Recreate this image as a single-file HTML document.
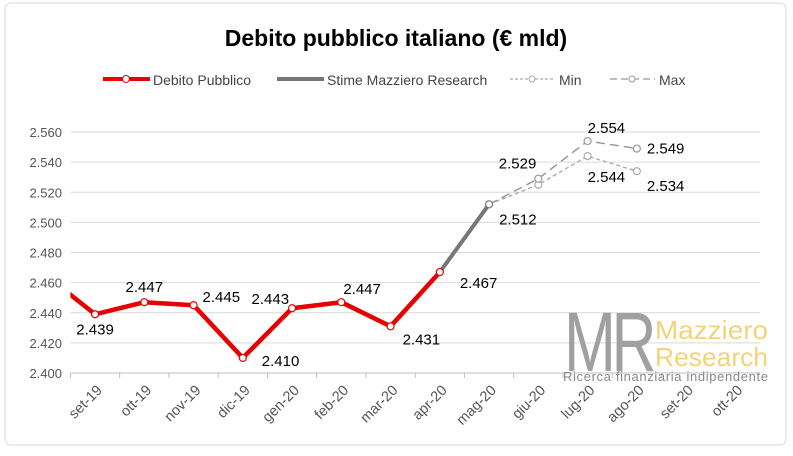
<!DOCTYPE html>
<html><head><meta charset="utf-8"><style>
body{margin:0;background:#fff;}
svg text{font-family:"Liberation Sans",sans-serif;}
</style></head><body>
<svg width="793" height="451" viewBox="0 0 793 451">
<rect x="5" y="3" width="781" height="442" rx="6" fill="#fff" stroke="#d9d9d9"/>
<text x="396" y="46" text-anchor="middle" font-size="23" font-weight="bold" fill="#000">Debito pubblico italiano (€ mld)</text>
<g id="legend">
<g><line x1="103" y1="79" x2="150" y2="79" stroke="#e00" stroke-width="4"/><circle cx="126" cy="79" r="3.5" fill="#fff" stroke="#e00"/><text x="153" y="85" font-size="14" fill="#444">Debito Pubblico</text></g>
<g><line x1="277" y1="79" x2="324" y2="79" stroke="#777" stroke-width="4"/><text x="327" y="85" font-size="14" fill="#444">Stime Mazziero Research</text></g>
<g><line x1="510" y1="79" x2="555" y2="79" stroke="#aaa" stroke-width="1.2" stroke-dasharray="3,2"/><circle cx="532" cy="79" r="3" fill="#fff" stroke="#aaa"/><text x="559" y="85" font-size="14" fill="#444">Min</text></g>
<g><line x1="610" y1="79" x2="655" y2="79" stroke="#999" stroke-width="1.2" stroke-dasharray="7,4"/><circle cx="632" cy="79" r="3" fill="#fff" stroke="#999"/><text x="659" y="85" font-size="14" fill="#444">Max</text></g>
</g>
<g id="grid"></g><g id="xaxis"></g>
<g>
<text x="564" y="371" font-size="84" fill="#a0a0a0" letter-spacing="-6" textLength="88" lengthAdjust="spacingAndGlyphs">MR</text>
<text x="655" y="339" font-size="26" fill="#f3d37a" textLength="113" lengthAdjust="spacingAndGlyphs">Mazziero</text>
<text x="655" y="366" font-size="26" fill="#f3d37a" textLength="113" lengthAdjust="spacingAndGlyphs">Research</text>
<text x="563" y="381" font-size="13" fill="#888" textLength="205">Ricerca finanziaria indipendente</text>
</g>
<g id="series"></g>
</svg>
<script>
const categories=["set-19","ott-19","nov-19","dic-19","gen-20","feb-20","mar-20","apr-20","mag-20","giu-20","lug-20","ago-20","set-20","ott-20"];
const debito=[2.439,2.447,2.445,2.410,2.443,2.447,2.431,2.467];
const debitoPrev=2.465;
const debitoLabels=["2.439","2.447","2.445","2.410","2.443","2.447","2.431","2.467"];
const stime=[null,null,null,null,null,null,null,2.467,2.512];
const minVals=[null,null,null,null,null,null,null,null,2.512,2.525,2.544,2.534];
const maxVals=[null,null,null,null,null,null,null,null,2.512,2.529,2.554,2.549];
const yTicks=[2.400,2.420,2.440,2.460,2.480,2.500,2.520,2.540,2.560];
const NS="http://www.w3.org/2000/svg";
const L=70.4,R=760,T0=132,B0=373,vMin=2.4,vMax=2.56;
const bw=(R-L)/categories.length;
function x(i){return L+bw*(i+0.5);}
function y(v){return B0-(v-vMin)/(vMax-vMin)*(B0-T0);}
function el(t,a,p){const e=document.createElementNS(NS,t);for(const k in a)e.setAttribute(k,a[k]);p.appendChild(e);return e;}
const grid=document.getElementById('grid'),xa=document.getElementById('xaxis'),ser=document.getElementById('series');
yTicks.forEach(v=>{
 const g=el('line',{x1:L,x2:R,y1:y(v),y2:y(v),stroke:v===2.4?'#bfbfbf':'#d9d9d9'},grid);
 
 
 const t=el('text',{x:62,y:y(v)+5,'text-anchor':'end','font-size':13,fill:'#555'},grid);
 t.textContent=v.toFixed(3);
 
 
});
categories.forEach((c,i)=>{
 const tk=el('line',{x1:L+bw*i,x2:L+bw*i,y1:B0,y2:B0+5,stroke:'#bfbfbf'},xa);
 
 
 const ax=x(i)+8,ay=B0+18;
 const t=el('text',{x:ax,y:ay,'text-anchor':'end','font-size':14.5,fill:'#555',transform:`rotate(-45 ${ax} ${ay})`},xa);
 t.textContent=c;
 
 
});
const clip=el('clipPath',{id:'pc'},ser);el('rect',{x:L,y:100,width:R-L,height:300},clip);
function line(vals,attrs,name,startPrev){
 let pts=[];if(startPrev!==undefined)pts.push([x(-1),y(startPrev)]);
 vals.forEach((v,i)=>{if(v!==null)pts.push([x(i),y(v)]);});
 const p=el('polyline',Object.assign({points:pts.map(q=>q.join(',')).join(' '),fill:'none','clip-path':'url(#pc)','stroke-linejoin':'round'},attrs),ser);
 
 
}
function markers(vals,stroke,name){vals.forEach((v,i)=>{if(v===null)return;const c=el('circle',{cx:x(i),cy:y(v),r:3.5,fill:'#fff',stroke:stroke,'stroke-width':1.2},ser);});}
line(minVals,{stroke:'#b0b0b0','stroke-width':1.5,'stroke-dasharray':'4,3'},'min-line');
line(maxVals,{stroke:'#999','stroke-width':1.5,'stroke-dasharray':'9,5'},'max-line');
line(stime,{stroke:'#777','stroke-width':4},'stime-line');
line(debito,{stroke:'#e60000','stroke-width':4.5},'debito-line',debitoPrev);
markers(minVals.map((v,i)=>i>8?v:null),'#aaa','min-point');
markers(maxVals.map((v,i)=>i>8?v:null),'#999','max-point');
markers(debito,'#e60000','debito-point');
markers(stime.map((v,i)=>i===8?v:null),'#777','stime-point');
const off=[[0,20,'middle'],[0,-10,'middle'],[9,-3,'start'],[19,8,'start'],[-3,-4,'end'],[2,-8,'start'],[12,18,'start'],[20,16,'start']];
debito.forEach((v,i)=>{const o=off[i];const t=el('text',{x:x(i)+o[0],y:y(v)+o[1],'text-anchor':o[2],'font-size':15,fill:'#000'},ser);t.textContent=debitoLabels[i];});
function lab(i,v,dx,dy,a){const t=el('text',{x:x(i)+dx,y:y(v)+dy,'text-anchor':a,'font-size':15,fill:'#000'},ser);t.textContent=v.toFixed(3);}
lab(8,stime[8],10,20,'start');
lab(9,maxVals[9],-2,-10,'end');
lab(10,maxVals[10],0,-8,'start');
lab(11,maxVals[11],10,5,'start');
lab(10,minVals[10],0,26,'start');
lab(11,minVals[11],10,20,'start');
</script>
</body></html>
